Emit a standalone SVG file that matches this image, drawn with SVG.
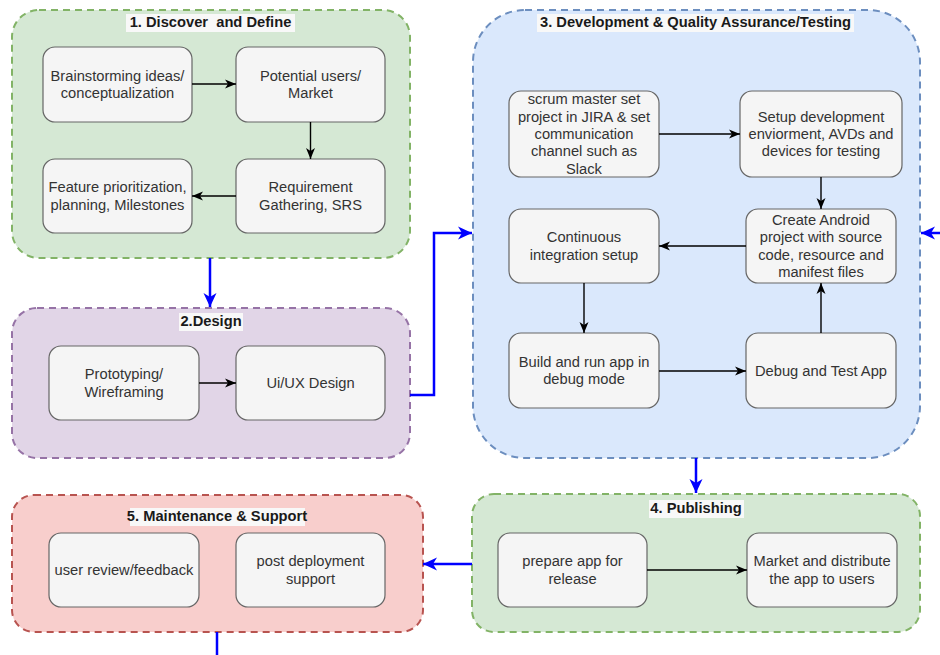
<svg xmlns="http://www.w3.org/2000/svg" width="940" height="655" viewBox="0 0 940 655">
<style>
.c{stroke-width:2;stroke-dasharray:7 5}
.g{fill:#d5e8d4;stroke:#82b366}
.p{fill:#e1d5e7;stroke:#9673a6}
.b{fill:#dae8fc;stroke:#6c8ebf}
.r{fill:#f8cecc;stroke:#b85450}
.n{fill:#f5f5f5;stroke:#666666;stroke-width:1.2}
.t{font-family:"Liberation Sans",Arial,sans-serif;font-size:14.7px;fill:#333333;text-anchor:middle}
.h{font-family:"Liberation Sans",Arial,sans-serif;font-size:14.7px;font-weight:bold;fill:#1a1a1a;text-anchor:middle;white-space:pre}
.lb{fill:#f8f8f8}
.k{fill:none;stroke:#000000;stroke-width:1.4}
.u{fill:none;stroke:#0000ff;stroke-width:2.5}
</style>
<defs>
<marker id="ak" markerUnits="userSpaceOnUse" markerWidth="12" markerHeight="10" refX="11" refY="5" orient="auto"><path d="M0,0.5 L11,5 L0,9.5 L3,5 z" fill="#000000"/></marker>
<marker id="ab" markerUnits="userSpaceOnUse" markerWidth="15" markerHeight="14" refX="14" refY="7" orient="auto"><path d="M0,0.5 L14,7 L0,13.5 L4,7 z" fill="#0000ff"/></marker>
</defs>

<g id="phase1">
<rect class="c g" x="12" y="10" width="398" height="248" rx="27"/>
<rect class="lb" x="126" y="14" width="169" height="18"/>
<text class="h" x="210.5" y="27">1. Discover  and Define</text>
</g>
<g id="phase2">
<rect class="c p" x="12" y="308" width="398" height="150" rx="25"/>
<rect class="lb" x="179" y="313" width="64" height="18"/>
<text class="h" x="211" y="326">2.Design</text>
</g>
<g id="phase3">
<rect class="c b" x="473" y="10" width="447" height="448" rx="52"/>
<rect class="lb" x="537" y="14" width="317" height="18"/>
<text class="h" x="695.5" y="27">3. Development &amp; Quality Assurance/Testing</text>
</g>
<g id="phase4">
<rect class="c g" x="472" y="494" width="448" height="138" rx="22"/>
<rect class="lb" x="649" y="500" width="95" height="18"/>
<text class="h" x="696" y="513">4. Publishing</text>
</g>
<g id="phase5">
<rect class="c r" x="12" y="495" width="411" height="137" rx="22"/>
<rect class="lb" x="130" y="508" width="175" height="18"/>
<text class="h" x="217" y="521">5. Maintenance &amp; Support</text>
</g>

<g id="brainstorm"><rect class="n" x="43" y="47" width="149" height="75" rx="12"/>
<text class="t" x="117.5" y="80.9">Brainstorming ideas/</text><text class="t" x="117.5" y="98.2">conceptualization</text></g>
<g id="potential"><rect class="n" x="236" y="47" width="149" height="75" rx="12"/>
<text class="t" x="310.5" y="80.9">Potential users/</text><text class="t" x="310.5" y="98.2">Market</text></g>
<g id="requirement"><rect class="n" x="236" y="159" width="149" height="74" rx="12"/>
<text class="t" x="310.5" y="192.4">Requirement</text><text class="t" x="310.5" y="209.7">Gathering, SRS</text></g>
<g id="feature"><rect class="n" x="43" y="159" width="149" height="74" rx="12"/>
<text class="t" x="117.5" y="192.4">Feature prioritization,</text><text class="t" x="117.5" y="209.7">planning, Milestones</text></g>

<g id="prototyping"><rect class="n" x="49" y="346" width="150" height="74" rx="12"/>
<text class="t" x="124" y="379.4">Prototyping/</text><text class="t" x="124" y="396.7">Wireframing</text></g>
<g id="uiux"><rect class="n" x="236" y="346" width="149" height="74" rx="12"/>
<text class="t" x="310.5" y="388">Ui/UX Design</text></g>

<g id="scrum"><rect class="n" x="509" y="91" width="150" height="86" rx="12"/>
<text class="t" x="584" y="104.4">scrum master set</text><text class="t" x="584" y="121.7">project in JIRA &amp; set</text><text class="t" x="584" y="139">communication</text><text class="t" x="584" y="156.3">channel such as</text><text class="t" x="584" y="173.6">Slack</text></g>
<g id="setup"><rect class="n" x="740" y="91" width="162" height="86" rx="12"/>
<text class="t" x="821" y="121.7">Setup development</text><text class="t" x="821" y="139">enviorment, AVDs and</text><text class="t" x="821" y="156.3">devices for testing</text></g>
<g id="create"><rect class="n" x="746" y="209" width="150" height="74" rx="12"/>
<text class="t" x="821" y="225">Create Android</text><text class="t" x="821" y="242.3">project with source</text><text class="t" x="821" y="259.6">code, resource and</text><text class="t" x="821" y="276.9">manifest files</text></g>
<g id="ci"><rect class="n" x="509" y="209" width="150" height="74" rx="12"/>
<text class="t" x="584" y="242.4">Continuous</text><text class="t" x="584" y="259.7">integration setup</text></g>
<g id="build"><rect class="n" x="509" y="333" width="150" height="75" rx="12"/>
<text class="t" x="584" y="366.9">Build and run app in</text><text class="t" x="584" y="384.2">debug mode</text></g>
<g id="debug"><rect class="n" x="746" y="333" width="150" height="75" rx="12"/>
<text class="t" x="821" y="375.5">Debug and Test App</text></g>

<g id="prepare"><rect class="n" x="498" y="533" width="149" height="74" rx="12"/>
<text class="t" x="572.5" y="566.4">prepare app for</text><text class="t" x="572.5" y="583.7">release</text></g>
<g id="market"><rect class="n" x="747" y="533" width="150" height="74" rx="12"/>
<text class="t" x="822" y="566.4">Market and distribute</text><text class="t" x="822" y="583.7">the app to users</text></g>

<g id="review"><rect class="n" x="49" y="533" width="150" height="74" rx="12"/>
<text class="t" x="124" y="575">user review/feedback</text></g>
<g id="postdeploy"><rect class="n" x="236" y="533" width="149" height="74" rx="12"/>
<text class="t" x="310.5" y="566.4">post deployment</text><text class="t" x="310.5" y="583.7">support</text></g>

<g id="connectors">
<path class="k" marker-end="url(#ak)" d="M192,84 H236"/>
<path class="k" marker-end="url(#ak)" d="M310.5,122 V159"/>
<path class="k" marker-end="url(#ak)" d="M236,196 H192"/>
<path class="k" marker-end="url(#ak)" d="M199,383 H236"/>
<path class="k" marker-end="url(#ak)" d="M659,134 H740"/>
<path class="k" marker-end="url(#ak)" d="M821,177 V209"/>
<path class="k" marker-end="url(#ak)" d="M746,246 H659"/>
<path class="k" marker-end="url(#ak)" d="M584,283 V333"/>
<path class="k" marker-end="url(#ak)" d="M659,371 H746"/>
<path class="k" marker-end="url(#ak)" d="M821,333 V283"/>
<path class="k" marker-end="url(#ak)" d="M647,570 H747"/>
<path class="u" marker-end="url(#ab)" d="M210,258 V307"/>
<path class="u" marker-end="url(#ab)" d="M410,395 H434 V233 H472"/>
<path class="u" marker-end="url(#ab)" d="M696,458 V493"/>
<path class="u" marker-end="url(#ab)" d="M472,564 H423"/>
<path class="u" marker-end="url(#ab)" d="M942,233 H921"/>
<path class="u" d="M217,632 V656"/>
</g>
</svg>
